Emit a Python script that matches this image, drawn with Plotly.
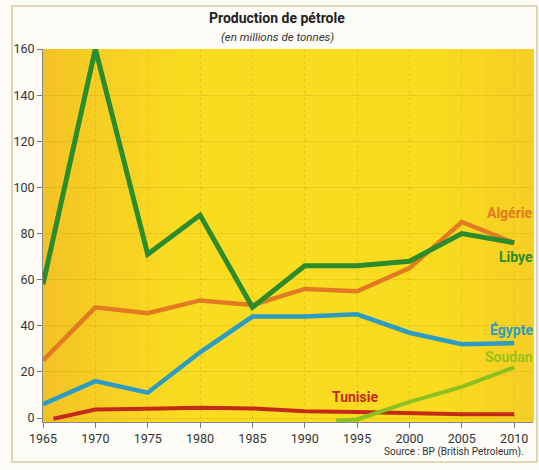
import plotly.graph_objects as go

years = [1965, 1970, 1975, 1980, 1985, 1990, 1995, 2000, 2005, 2010]
libye = [58, 160, 71, 88, 48, 66, 66, 68, 80, 76]
algerie = [25, 48, 45.5, 51, 49, 56, 55, 65, 85, 76]
egypte = [6, 16, 11, 28.5, 44, 44, 45, 37, 32, 32.5]
tunisie_years = [1966, 1970, 1975, 1980, 1985, 1990, 1995, 2000, 2005, 2010]
tunisie = [-0.3, 3.7, 4, 4.5, 4.2, 3, 2.6, 2, 1.7, 1.7]
soudan_years = [1993, 1995, 2000, 2005, 2010]
soudan = [-1, -0.6, 7, 13.5, 22]
y_ticks = [0, 20, 40, 60, 80, 100, 120, 140, 160]
x_ticks = years

FONT = "Roboto, Liberation Sans, sans-serif"
PW, PH = 490, 373

fig = go.Figure()

series = [
    ("Tunisie", tunisie_years, tunisie, "#c42a1a", 4),
    ("Soudan", soudan_years, soudan, "#8cc020", 4),
    ("Égypte", years, egypte, "#2b9cc4", 4.5),
    ("Algérie", years, algerie, "#e27a22", 4.5),
    ("Libye", years, libye, "#2a8c2a", 5),
]
for name, xs, ys, col, w in series:
    fig.add_trace(go.Scatter(x=xs, y=ys, mode="lines", name=name,
                             line=dict(color=col, width=w), showlegend=False))

# mild horizontal gradient background
shapes = []
n = 40
def mix(c1, c2, t):
    return tuple(int(round(a + (b - a) * t)) for a, b in zip(c1, c2))
edgeL = (243, 192, 38)
centre = (249, 220, 32)
edgeR = (246, 206, 36)
for i in range(n):
    t = (i + 0.5) / n
    if t < 0.3:
        c = mix(edgeL, centre, (t / 0.3) ** 0.7)
    elif t < 0.8:
        c = centre
    else:
        c = mix(centre, edgeR, (t - 0.8) / 0.2)
    shapes.append(dict(type="rect", xref="paper", yref="paper",
                       x0=i / n, x1=(i + 1) / n + 0.002, y0=0, y1=1,
                       fillcolor="rgb(%d,%d,%d)" % c, line=dict(width=0),
                       layer="below"))
# outer frame
shapes.append(dict(type="rect", xref="paper", yref="paper",
                   x0=-31 / PW, x1=1 + 4 / PW, y0=-40 / PH, y1=1 + 43 / PH,
                   line=dict(color="#d8c9a0", width=1.5), fillcolor="rgba(0,0,0,0)",
                   layer="below"))

labels = [
    ("Algérie", 89, "#e27a22"),
    ("Libye", 70, "#2a8c2a"),
    ("Égypte", 38.5, "#2b9cc4"),
    ("Soudan", 26.5, "#9cc21a"),
]
annotations = []
for txt, y, col in labels:
    annotations.append(dict(x=1.004, y=y, xref="paper", yref="y", text="<b>%s</b>" % txt,
                            showarrow=False, xanchor="right", yanchor="middle",
                            font=dict(family=FONT, size=14, color=col)))
annotations.append(dict(x=1994.8, y=9, xref="x", yref="y", text="<b>Tunisie</b>",
                        showarrow=False, xanchor="center", yanchor="middle",
                        font=dict(family=FONT, size=14, color="#c42a1a")))
annotations.append(dict(x=0.478, y=1 + 31 / PH, xref="paper", yref="paper",
                        text="<b>Production de pétrole</b>", showarrow=False,
                        xanchor="center", yanchor="middle",
                        font=dict(family=FONT, size=14, color="#222")))
annotations.append(dict(x=0.478, y=1 + 12 / PH, xref="paper", yref="paper",
                        text="<i>(en millions de tonnes)</i>", showarrow=False,
                        xanchor="center", yanchor="middle",
                        font=dict(family=FONT, size=11.5, color="#333")))
annotations.append(dict(x=0.985, y=-30 / PH, xref="paper", yref="paper",
                        text="Source : BP (British Petroleum).", showarrow=False,
                        xanchor="right", yanchor="middle",
                        font=dict(family=FONT, size=10, color="#333")))

fig.update_layout(
    width=539, height=470,
    margin=dict(l=43, r=6, t=49, b=48),
    paper_bgcolor="#fdfcf7",
    plot_bgcolor="rgba(0,0,0,0)",
    shapes=shapes,
    annotations=annotations,
    font=dict(family=FONT, size=12, color="#333"),
    xaxis=dict(range=[1965, 2011.8], tickvals=x_ticks, ticks="outside", ticklen=5,
               tickcolor="#777", showline=True, linecolor="#888", linewidth=1,
               showgrid=True, gridcolor="rgba(190,150,20,0.3)", griddash="dot",
               zeroline=False, tickfont=dict(size=12.5, color="#333")),
    yaxis=dict(range=[-1.7, 160], tickvals=y_ticks, ticks="outside", ticklen=5,
               tickcolor="#777", showline=True, linecolor="#888", linewidth=1,
               showgrid=True, gridcolor="rgba(190,150,20,0.25)",
               zeroline=False, tickfont=dict(size=12.5, color="#333")),
)

# remove the default page margin so the 539x470 figure fills the window exactly
fig.write_html("out.html",
               config={"displayModeBar": False},
               post_script="document.body.style.margin='0';"
                           "document.body.style.overflow='hidden';")
